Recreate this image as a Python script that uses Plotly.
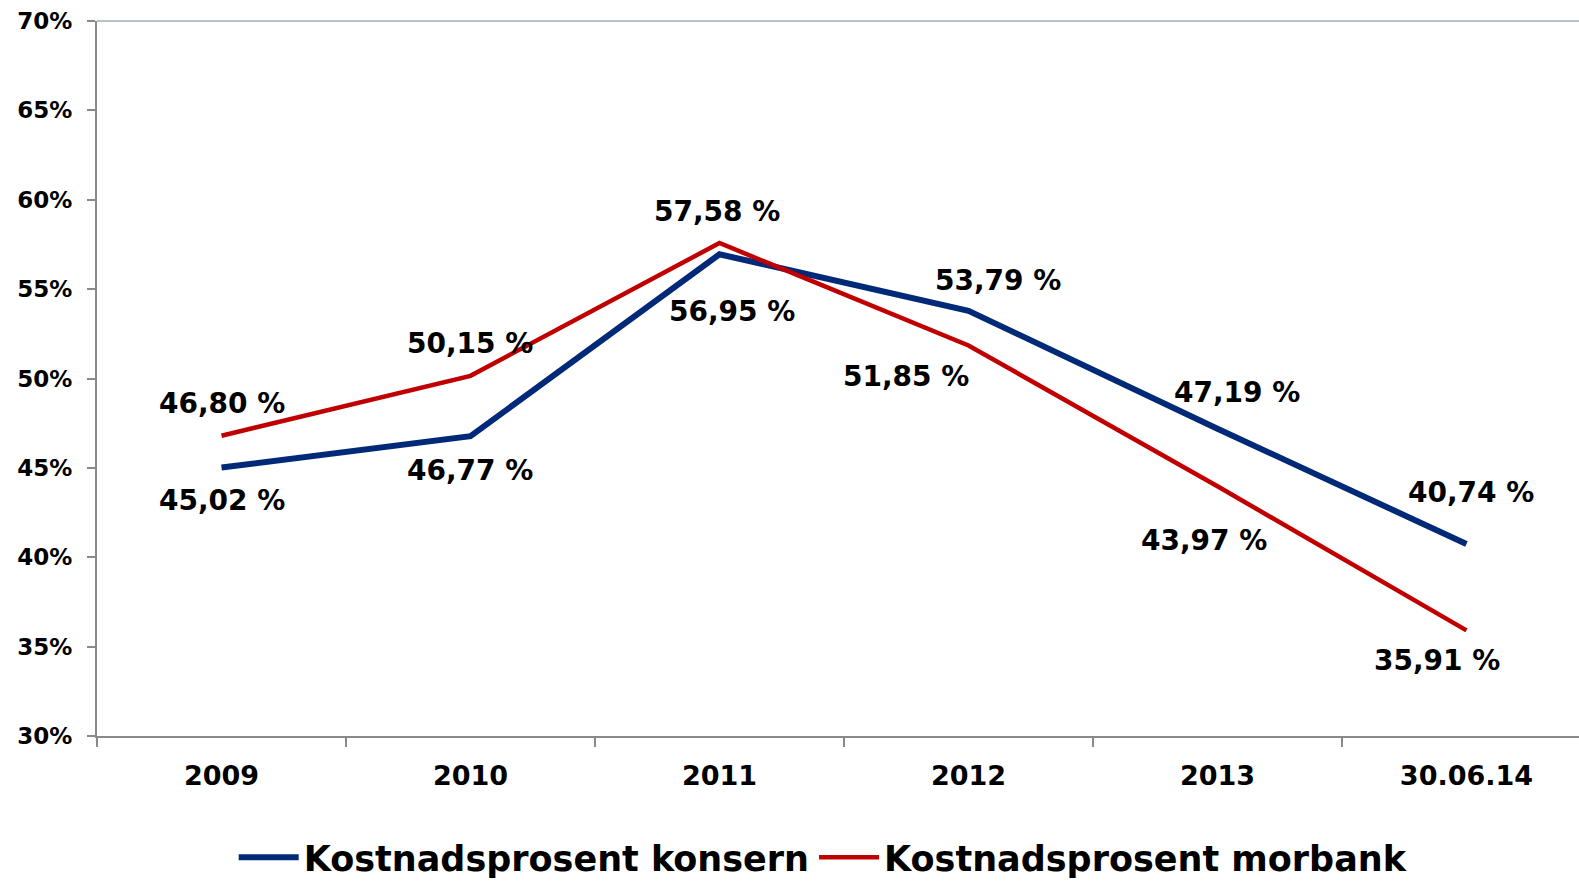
import plotly.graph_objects as go

categories = ["2009", "2010", "2011", "2012", "2013", "30.06.14"]
konsern = [45.02, 46.77, 56.95, 53.79, 47.19, 40.74]
morbank = [46.80, 50.15, 57.58, 51.85, 43.97, 35.91]
konsern_labels = ["45,02 %", "46,77 %", "56,95 %", "53,79 %", "47,19 %", "40,74 %"]
morbank_labels = ["46,80 %", "50,15 %", "57,58 %", "51,85 %", "43,97 %", "35,91 %"]
ytick_vals = [30, 35, 40, 45, 50, 55, 60, 65, 70]
ytick_text = ["30%", "35%", "40%", "45%", "50%", "55%", "60%", "65%", "70%"]

# label offsets in pixels (style)
konsern_dx = [0, 0, 13, 30, 20, 5]
konsern_dy = [-33, -34, -57, 30, 36, 52]
morbank_dx = [0, 0, -2, -62, -13, -29]
morbank_dy = [32, 32, 32, -31, -54, -30]

BLUE = "#002A78"
RED = "#C00000"

fig = go.Figure()
fig.add_trace(go.Scatter(x=categories, y=konsern, mode="lines", name="Kostnadsprosent konsern",
                         line=dict(color=BLUE, width=6)))
fig.add_trace(go.Scatter(x=categories, y=morbank, mode="lines", name="Kostnadsprosent morbank",
                         line=dict(color=RED, width=4.5)))

lab_font = dict(family="DejaVu Sans", size=28, color="black", weight="bold")
for i, c in enumerate(categories):
    fig.add_annotation(x=i, y=konsern[i], text=konsern_labels[i], showarrow=False,
                       xshift=konsern_dx[i], yshift=konsern_dy[i], font=lab_font)
    fig.add_annotation(x=i, y=morbank[i], text=morbank_labels[i], showarrow=False,
                       xshift=morbank_dx[i], yshift=morbank_dy[i], font=lab_font)

fig.add_shape(type="line", xref="paper", yref="paper", x0=0, x1=1, y0=1, y1=1,
              line=dict(color="#B3C4CC", width=2))

fig.update_layout(
    width=1579, height=883,
    margin=dict(l=97, r=0, t=21, b=147),
    paper_bgcolor="white", plot_bgcolor="white",
    showlegend=True,
    legend=dict(orientation="h", x=0.49, xanchor="center",
                yref="container", y=0.029, yanchor="middle",
                font=dict(family="DejaVu Sans", size=35, color="black", weight="bold"),
                itemwidth=60, traceorder="normal"),
    xaxis=dict(type="category", range=[-0.5, 5.452], showgrid=False, zeroline=False,
               automargin=False,
               showline=True, linecolor="#898989", linewidth=2,
               ticks="outside", ticklen=9, tickcolor="#898989", tickwidth=2,
               tickson="boundaries", ticklabelstandoff=15,
               tickfont=dict(family="DejaVu Sans", size=27, color="black", weight="bold")),
    yaxis=dict(range=[30, 70], tickvals=ytick_vals, ticktext=ytick_text, showgrid=False,
               automargin=False,
               zeroline=False, showline=True, linecolor="#898989", linewidth=2,
               ticks="outside", ticklen=8, tickcolor="#898989", tickwidth=2,
               ticklabelstandoff=10,
               tickfont=dict(family="DejaVu Sans", size=23, color="black", weight="bold")),
)

fig.write_html("out.html", config={"displayModeBar": False},
               post_script="document.body.style.margin='0';document.body.style.overflow='hidden';")
